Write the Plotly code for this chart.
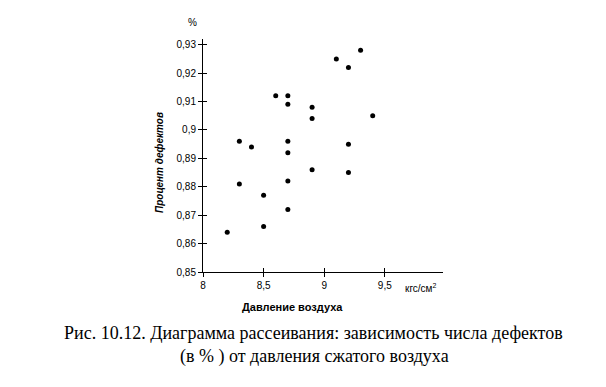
import plotly.graph_objects as go

pressure = [8.2, 8.3, 8.3, 8.4, 8.5, 8.5, 8.6, 8.7, 8.7, 8.7, 8.7, 8.7, 8.7,
            8.9, 8.9, 8.9, 9.1, 9.2, 9.2, 9.2, 9.3, 9.4]
defects = [0.864, 0.881, 0.896, 0.894, 0.877, 0.866, 0.912, 0.912, 0.909, 0.896, 0.892, 0.882, 0.872,
           0.908, 0.904, 0.886, 0.925, 0.922, 0.895, 0.885, 0.928, 0.905]

x_ticks = [8, 8.5, 9, 9.5]
x_labels = ["8", "8,5", "9", "9,5"]
y_ticks = [0.85, 0.86, 0.87, 0.88, 0.89, 0.90, 0.91, 0.92, 0.93]
y_labels = ["0,85", "0,86", "0,87", "0,88", "0,89", "0,9", "0,91", "0,92", "0,93"]

W, H = 598, 379          # page body adds 8px offset
OFF = 8
L, T = 195, 31
PW, PH = 240, 233
R, B = W - L - PW, H - T - PH

fig = go.Figure()
fig.add_trace(go.Scatter(x=pressure, y=defects, mode="markers",
                         marker=dict(color="black", size=5), showlegend=False))
fig.add_trace(go.Scatter(x=[pressure[0]], y=[defects[0]], xaxis="x2", yaxis="y2",
                         mode="markers", marker=dict(opacity=0), showlegend=False, hoverinfo="skip"))

axfont = dict(family="Liberation Sans, Arial", size=10, color="black")
xr = [8, 9.98]
yr = [0.85, 0.932]
fig.update_layout(
    width=W, height=H, autosize=False,
    margin=dict(l=L, r=R, t=T, b=B, pad=0),
    plot_bgcolor="white", paper_bgcolor="white",
    xaxis=dict(range=xr, tickvals=x_ticks, ticktext=x_labels, showgrid=False, zeroline=False,
               showline=True, linecolor="black", linewidth=1, ticks="outside", ticklen=4,
               tickcolor="black", tickfont=axfont),
    yaxis=dict(range=yr, tickvals=y_ticks, ticktext=y_labels, showgrid=False, zeroline=False,
               showline=True, linecolor="black", linewidth=1, ticks="outside", ticklen=4,
               tickcolor="black", tickfont=axfont),
    xaxis2=dict(range=xr, tickvals=x_ticks, overlaying="x", showticklabels=False, showgrid=False,
                zeroline=False, ticks="inside", ticklen=4, tickcolor="black", side="bottom"),
    yaxis2=dict(range=yr, tickvals=y_ticks, overlaying="y", showticklabels=False, showgrid=False,
                zeroline=False, ticks="inside", ticklen=4, tickcolor="black", side="left"),
)

sans = "Liberation Sans, Arial"
serif = "Liberation Serif, Times New Roman"
texts = [
    ("%", 192, 23, 0, dict(family=sans, size=10, color="black")),
    ("<b><i>Процент дефектов</i></b>", 159, 163, -90, dict(family=sans, size=10, color="black")),
    ("<b>Давление воздуха</b>", 292, 307, 0, dict(family=sans, size=11, color="black")),
    ("кгс/см<sup>2</sup>", 420, 288, 0, dict(family=sans, size=10, color="black")),
    ("Рис. 10.12. Диаграмма рассеивания: зависимость числа дефектов", 313, 333, 0,
     dict(family=serif, size=18, color="black")),
    ("(в % ) от давления сжатого воздуха", 314, 356, 0, dict(family=serif, size=18, color="black")),
]
for txt, px, py, ang, f in texts:
    fx = px - OFF
    fy = py - OFF
    fig.add_annotation(text=txt, x=(fx - L) / PW, y=(H - B - fy) / PH, xref="paper", yref="paper",
                       xanchor="center", yanchor="middle", showarrow=False, textangle=ang, font=f)

fig.write_html("out.html")
